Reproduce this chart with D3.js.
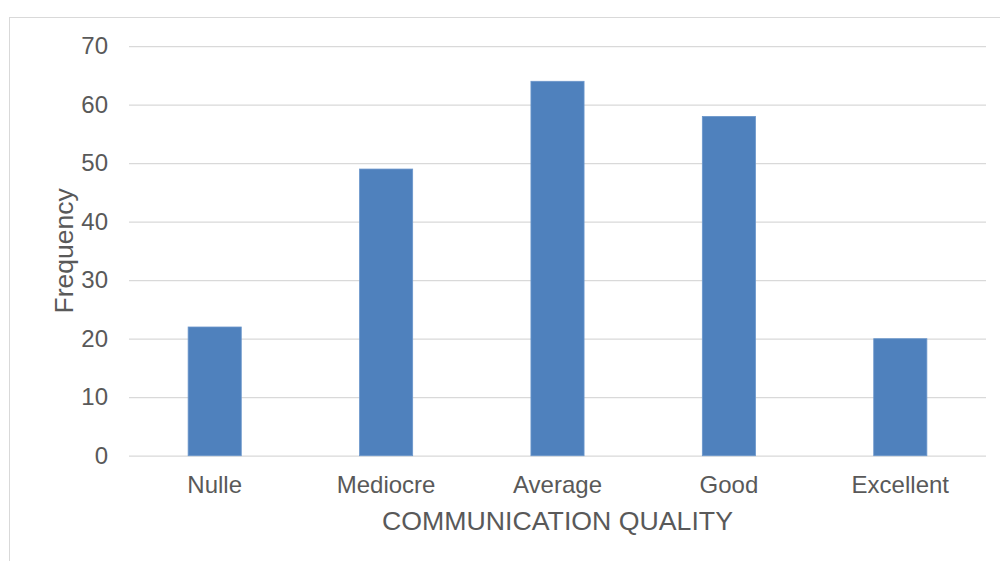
<!DOCTYPE html>
<html>
<head>
<meta charset="utf-8">
<script src="https://cdn.jsdelivr.net/npm/d3@7"></script>
<style>
  html, body { margin: 0; padding: 0; background: #fff; }
  svg { display: block; font-family: "Liberation Sans", Arial, sans-serif; }
</style>
</head>
<body>
<svg id="chart" width="1000" height="561"></svg>
<script>
// Communication quality ratings and how often each was given
const categories = ["Nulle", "Mediocre", "Average", "Good", "Excellent"];
const frequencies = [22, 49, 64, 58, 20];
const yTicks = [0, 10, 20, 30, 40, 50, 60, 70];
const xTitle = "COMMUNICATION QUALITY";
const yTitle = "Frequency";

const svg = d3.select("#chart");
const plot = { left: 129, right: 986, top: 46.2, bottom: 455.7 };

// chart frame
svg.append("rect")
  .attr("x", 9.5).attr("y", 17.5)
  .attr("width", 1000).attr("height", 600)
  .attr("fill", "#fff")
  .attr("stroke", "#d9d9d9").attr("stroke-width", 1);

const x = d3.scaleBand()
  .domain(categories)
  .range([plot.left, plot.right])
  .paddingInner(0.69)
  .paddingOuter(0.345);

const y = d3.scaleLinear()
  .domain([0, 70])
  .range([plot.bottom, plot.top]);

// horizontal gridlines with value labels
const yAxis = d3.axisLeft(y)
  .tickValues(yTicks)
  .tickSize(-(plot.right - plot.left))
  .tickPadding(21);

const gy = svg.append("g")
  .attr("transform", `translate(${plot.left},0)`)
  .call(yAxis);
gy.select(".domain").remove();
gy.selectAll(".tick line")
  .attr("stroke", "#d9d9d9").attr("stroke-width", 1.3);
gy.selectAll(".tick text")
  .attr("fill", "#595959")
  .attr("font-size", 24);

// bars
svg.append("g")
  .selectAll("rect")
  .data(categories)
  .join("rect")
  .attr("x", d => x(d))
  .attr("y", (d, i) => y(frequencies[i]))
  .attr("width", x.bandwidth())
  .attr("height", (d, i) => y(0) - y(frequencies[i]))
  .attr("fill", "#4f81bd")
  .attr("stroke", "#6b96cb")
  .attr("stroke-width", 0.8);

// category axis
const xAxis = d3.axisBottom(x).tickSize(0).tickPadding(20);
const gx = svg.append("g")
  .attr("transform", `translate(0,${plot.bottom})`)
  .call(xAxis);
gx.select(".domain").remove();
gx.selectAll(".tick text")
  .attr("fill", "#595959")
  .attr("font-size", 24);

// axis titles
svg.append("text")
  .attr("x", (plot.left + plot.right) / 2)
  .attr("y", 530)
  .attr("text-anchor", "middle")
  .attr("fill", "#595959")
  .attr("font-size", 26.7)
  .text(xTitle);

svg.append("text")
  .attr("transform", `translate(73,${(plot.top + plot.bottom) / 2}) rotate(-90)`)
  .attr("text-anchor", "middle")
  .attr("fill", "#595959")
  .attr("font-size", 26.5)
  .text(yTitle);
</script>
</body>
</html>
